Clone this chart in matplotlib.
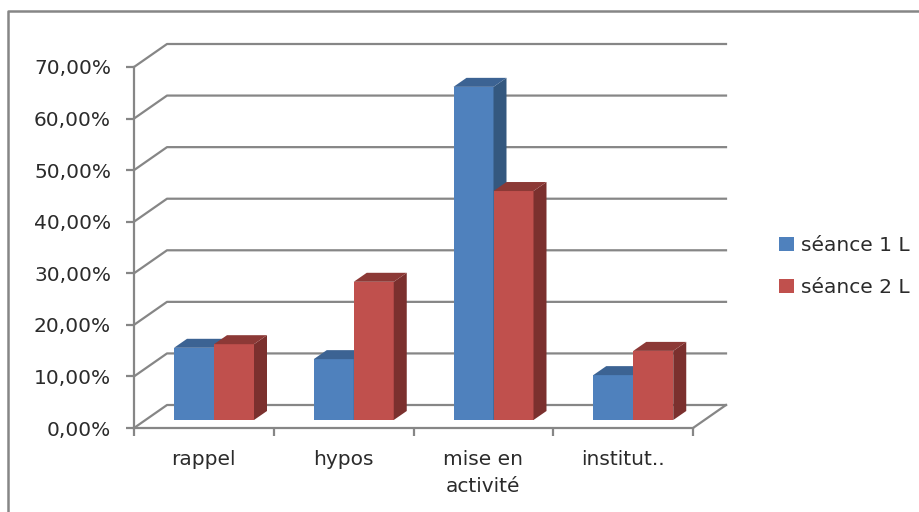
#!/usr/bin/env python3
"""Recreate the 3D-look clustered column chart (seance 1 / seance 2)."""

import matplotlib
matplotlib.use('Agg')
import matplotlib.pyplot as plt
from matplotlib.lines import Line2D
from matplotlib.patches import Patch, Polygon

plt.rcParams['font.family'] = ['DejaVu Sans']

# Data
categories = ['rappel', 'hypos', 'mise en\nactivité', 'institut..']
seance_1 = [0.140, 0.118, 0.646, 0.087]
seance_2 = [0.147, 0.268, 0.444, 0.134]
series_names = ['séance 1 L', 'séance 2 L']
y_ticks = [0, 0.1, 0.2, 0.3, 0.4, 0.5, 0.6, 0.7]
y_labels = ['0,00%', '10,00%', '20,00%', '30,00%', '40,00%', '50,00%', '60,00%', '70,00%']

GRID = '#868686'
TEXT = '#2b2b2b'
front = ['#4f81bd', '#c0504d']
side = ['#34587f', '#7b302e']
top = ['#3c6393', '#8c3936']

W, H = 920, 512
fig = plt.figure(figsize=(W / 100, H / 100), dpi=100)
ax = fig.add_axes([134 / W, 1 - 428 / H, (693 - 134) / W, (428 - 67) / H])
ax.set_xlim(0, 4)
ax.set_ylim(0, 0.7)

# pixel sizes turned into data units
px_x = 4 / (693 - 134)
px_y = 0.7 / (428 - 67)
wall_dx, wall_dy = 33 * px_x, 23 * px_y
bar_dx, bar_dy = 13 * px_x, 9 * px_y
floor = 8 * px_y
bar_w = 40 * px_x
first_left = 40 * px_x

line_kw = dict(color=GRID, lw=1.6, clip_on=False, solid_capstyle='projecting')

# back wall, side wall and floor
for v in y_ticks:
    ax.plot([0, wall_dx, 4 + wall_dx], [v, v + wall_dy, v + wall_dy], zorder=1, **line_kw)
ax.plot([4, 4 + wall_dx], [0, wall_dy], zorder=1, **line_kw)

# columns
for s, values in enumerate([seance_1, seance_2]):
    lefts = [i + first_left + s * bar_w for i in range(len(values))]
    ax.bar(lefts, values, width=bar_w, bottom=floor, align='edge', color=front[s], zorder=3 + s)
    for x0, v in zip(lefts, values):
        x1 = x0 + bar_w
        yb = floor
        yt = floor + v
        ax.add_patch(Polygon([(x1, yb), (x1 + bar_dx, yb + bar_dy), (x1 + bar_dx, yt + bar_dy), (x1, yt)],
                             closed=True, fc=side[s], ec='none', clip_on=False, zorder=3 + s))
        ax.add_patch(Polygon([(x0, yt), (x1, yt), (x1 + bar_dx, yt + bar_dy), (x0 + bar_dx, yt + bar_dy)],
                             closed=True, fc=top[s], ec='none', clip_on=False, zorder=3 + s))

# axes
for name in ['top', 'right']:
    ax.spines[name].set_visible(False)
for name in ['left', 'bottom']:
    ax.spines[name].set_color(GRID)
    ax.spines[name].set_linewidth(1.6)
    ax.spines[name].set_zorder(2)
ax.patch.set_alpha(0)

ax.set_yticks(y_ticks)
ax.set_yticklabels(y_labels, fontsize=14.5, color=TEXT)
ax.tick_params(axis='y', length=5.5, width=1.6, color=GRID, pad=11)

ax.set_xticks(range(5))
ax.set_xticklabels([])
ax.tick_params(axis='x', which='major', length=5.5, width=1.6, color=GRID)
ax.set_xticks([i + 0.5 for i in range(len(categories))], minor=True)
ax.set_xticklabels(categories, minor=True, fontsize=14.5, color=TEXT, linespacing=1.5)
ax.tick_params(axis='x', which='minor', length=0, pad=16)

# legend
handles = [Patch(fc=front[0], ec='none'), Patch(fc=front[1], ec='none')]
fig.legend(handles, series_names, loc='center left', bbox_to_anchor=(779 / W, 1 - 266.5 / H),
           frameon=False, fontsize=14.5, labelcolor=TEXT, handlelength=0.75, handleheight=0.75,
           handletextpad=0.35, labelspacing=1.15, borderpad=0, borderaxespad=0)

# outer chart frame, the right side is cut off by the picture edge
fig.add_artist(Line2D([8 / W, 8 / W, 1], [0, 1 - 11 / H, 1 - 11 / H],
                      color=GRID, lw=1.8))

fig.savefig('out.png', dpi=100)
